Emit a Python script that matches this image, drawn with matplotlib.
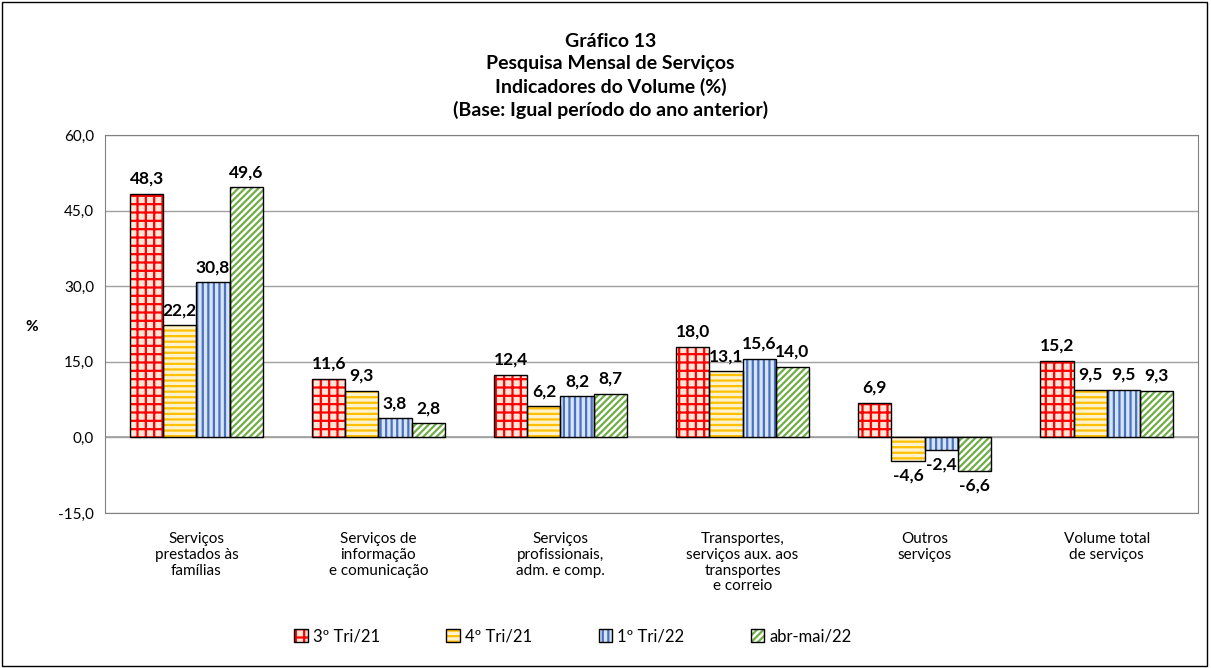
import matplotlib
matplotlib.use('Agg')
import matplotlib.pyplot as plt
import numpy as np
from matplotlib.patches import Rectangle
from matplotlib.legend_handler import HandlerTuple

plt.rcParams['font.family'] = ['Lato', 'DejaVu Sans']
plt.rcParams['hatch.linewidth'] = 1.6

# ========== 数据 ==========
categories = ['Serviços\nprestados às\nfamílias',
              'Serviços de\ninformação\ne comunicação',
              'Serviços\nprofissionais,\nadm. e comp.',
              'Transportes,\nserviços aux. aos\ntransportes\ne correio',
              'Outros\nserviços',
              'Volume total\nde serviços']
series_names = ['3º Tri/21', '4º Tri/21', '1º Tri/22', 'abr-mai/22']
tri3_21 = [48.3, 11.6, 12.4, 18.0, 6.9, 15.2]
tri4_21 = [22.2, 9.3, 6.2, 13.1, -4.6, 9.5]
tri1_22 = [30.8, 3.8, 8.2, 15.6, -2.4, 9.5]
abrmai_22 = [49.6, 2.8, 8.7, 14.0, -6.6, 9.3]
values = [tri3_21, tri4_21, tri1_22, abrmai_22]

# estilos: cor de fundo, cor da hachura, hachura
faces = ['#FCE4D6', '#FFF2CC', '#DAE3F3', 'white']
hcols = ['#FF0000', '#FFC000', '#4472C4', '#70AD47']
hatches = ['++', '---', '|||', '/////']

fig = plt.figure(figsize=(12.11, 6.68), dpi=100)
ax = fig.add_axes([0.087, 0.232, 0.902, 0.566])

x = np.arange(len(categories))
w = 0.182
for i, vals in enumerate(values):
    pos = x + (i - 1.5) * w
    ax.bar(pos, vals, w, color=faces[i], edgecolor=hcols[i], hatch=hatches[i],
           linewidth=0, zorder=3)
    ax.bar(pos, vals, w, fill=False, edgecolor='black', linewidth=1.0, zorder=4)
    for p, v in zip(pos, vals):
        txt = f'{v:.1f}'.replace('.', ',')
        if v >= 0:
            ax.annotate(txt, (p, v), xytext=(0, 5), textcoords='offset points',
                        ha='center', va='bottom', fontsize=12.5, fontweight='bold')
        else:
            ax.annotate(txt, (p, v), xytext=(0, -5), textcoords='offset points',
                        ha='center', va='top', fontsize=12.5, fontweight='bold')

# legenda
handles = []
for i in range(4):
    hfill = Rectangle((0, 0), 1, 1, facecolor=faces[i], edgecolor=hcols[i],
                      hatch=hatches[i], linewidth=0)
    hedge = Rectangle((0, 0), 1, 1, fill=False, edgecolor='black', linewidth=1.0)
    handles.append((hfill, hedge))
fig.legend(handles, series_names, loc='center', bbox_to_anchor=(0.473, 0.047),
           ncol=4, frameon=False, fontsize=12, handlelength=0.8,
           handleheight=0.8, columnspacing=4.0, handletextpad=0.3,
           handler_map={tuple: HandlerTuple(ndivide=1, pad=0)})

ax.set_ylim(-15, 60)
ax.set_xlim(-0.5, len(categories) - 0.5)
ax.set_yticks([-15, 0, 15, 30, 45, 60])
ax.set_yticklabels(['-15,0', '0,0', '15,0', '30,0', '45,0', '60,0'], fontsize=11)
ax.set_xticks(x)
ax.set_xticklabels(categories, fontsize=11, linespacing=1.15)
ax.tick_params(axis='both', length=0, pad=8)
ax.tick_params(axis='x', pad=14)
ax.grid(True, axis='y', color='#A0A0A0', linewidth=1.0, zorder=0)
ax.axhline(0, color='#A0A0A0', linewidth=1.2, zorder=2)
for s in ax.spines.values():
    s.set_color('#808080')
    s.set_linewidth(0.8)

fig.text(0.026, 0.51, '%', fontsize=11, fontweight='bold', ha='center', va='center')

fig.text(0.504, 0.886,
         'Gráfico 13\nPesquisa Mensal de Serviços\nIndicadores do Volume (%)\n(Base: Igual período do ano anterior)',
         ha='center', va='center', fontsize=14, fontweight='bold', linespacing=1.35)

# moldura
fig.patches.append(Rectangle((0.002, 0.003), 0.995, 0.994, transform=fig.transFigure,
                             fill=False, edgecolor='black', linewidth=1.0))

plt.savefig('out.png', dpi=100)
